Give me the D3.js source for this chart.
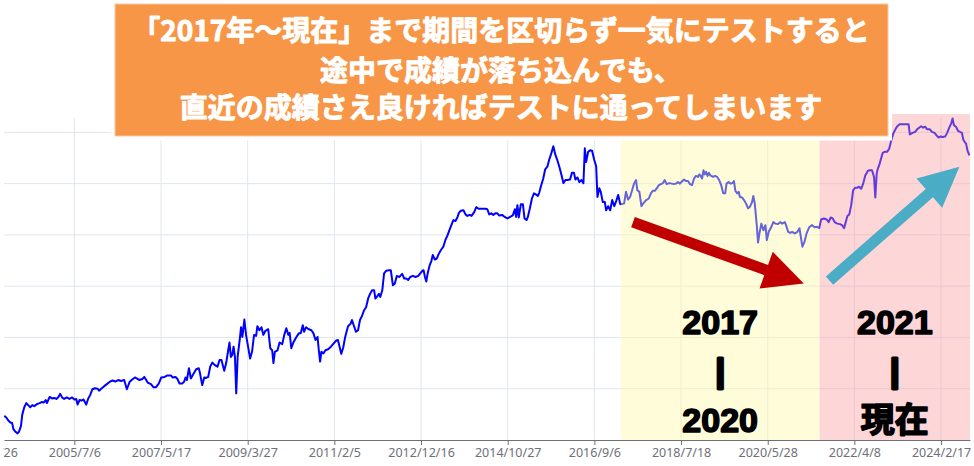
<!DOCTYPE html>
<html lang="ja">
<head>
<meta charset="utf-8">
<title>期間を区切らずにテスト</title>
<script src="https://cdn.jsdelivr.net/npm/d3@7"></script>
<style>
  body { margin: 0; background: #fff; }
  svg { display: block; }
</style>
</head>
<body>
<script>
"use strict";

// size of the picture
let w = 974;
let h = 466;

// equity curve, [date, value]
let equity = [
["2004-01-03",47],["2004-01-19",44],["2004-02-04",38],["2004-02-20",34],["2004-03-05",33],["2004-03-15",21],["2004-03-31",16],["2004-04-16",13],["2004-04-27",16],["2004-05-13",27],["2004-05-23",49],["2004-06-08",64],["2004-06-24",72],["2004-07-09",68],["2004-07-25",64],["2004-08-10",68],["2004-08-25",66],["2004-09-16",70],["2004-10-06",72],["2004-10-22",74],["2004-11-07",73],["2004-11-23",78],["2004-12-03",72],["2004-12-24",84],
["2005-01-12",81],["2005-01-30",82],["2005-02-15",80],["2005-03-03",84],["2005-03-16",90],["2005-04-01",83],["2005-04-17",80],["2005-05-08",83],["2005-05-28",80],["2005-06-19",83],["2005-07-06",79],["2005-07-21",80],["2005-07-31",69],["2005-08-16",78],["2005-08-31",77],["2005-09-16",79],["2005-10-07",69],["2005-10-23",81],["2005-11-08",88],["2005-11-24",99],["2005-12-14",101],
["2006-01-05",100],["2006-01-16",96],["2006-02-06",101],["2006-02-25",105],["2006-03-18",109],["2006-04-13",114],["2006-05-04",116],["2006-05-24",114],["2006-06-15",117],["2006-07-06",115],["2006-08-01",117],["2006-08-22",99],["2006-09-12",113],["2006-10-03",118],["2006-10-24",122],["2006-11-14",119],["2006-11-30",117],["2006-12-21",119],
["2007-01-06",123],["2007-01-16",119],["2007-02-01",112],["2007-02-27",109],["2007-03-18",103],["2007-04-08",103],["2007-04-29",110],["2007-05-19",122],["2007-06-15",123],["2007-07-06",126],["2007-08-02",126],["2007-08-17",122],["2007-09-08",123],["2007-09-23",119],["2007-10-09",110],["2007-10-30",110],["2007-11-15",114],["2007-11-25",122],["2007-12-06",117],["2007-12-22",140],
["2008-01-06",120],["2008-01-27",129],["2008-02-17",138],["2008-03-08",140],["2008-03-18",130],["2008-04-04",107],["2008-04-20",122],["2008-05-05",121],["2008-05-21",123],["2008-06-06",143],["2008-06-22",151],["2008-07-12",146],["2008-08-02",143],["2008-08-18",156],["2008-09-02",156],["2008-09-24",135],["2008-10-09",150],["2008-10-25",175],["2008-11-04",190],["2008-11-15",162],["2008-11-26",166],["2008-12-06",182],["2008-12-17",162],["2008-12-27",91],
["2009-01-07",162],["2009-01-23",195],["2009-02-03",220],["2009-02-13",201],["2009-03-01",235],["2009-03-14",205],["2009-03-30",182],["2009-04-15",159],["2009-04-30",172],["2009-05-16",205],["2009-06-01",203],["2009-06-11",222],["2009-06-27",214],["2009-07-13",220],["2009-07-28",205],["2009-08-13",213],["2009-09-04",216],["2009-09-20",179],["2009-10-05",175],["2009-10-15",150],["2009-10-26",172],["2009-11-16",175],["2009-12-02",190],["2009-12-23",187],
["2010-01-08",205],["2010-01-24",218],["2010-02-09",205],["2010-02-19",209],["2010-03-04",179],["2010-03-20",190],["2010-04-11",200],["2010-05-02",208],["2010-05-17",208],["2010-06-02",224],["2010-06-12",211],["2010-06-28",220],["2010-07-19",216],["2010-08-09",214],["2010-08-25",208],["2010-09-10",195],["2010-09-26",201],["2010-10-06",175],["2010-10-16",153],["2010-10-26",172],["2010-11-11",169],["2010-11-27",175],["2010-12-18",177],
["2011-01-09",182],["2011-01-29",188],["2011-02-20",194],["2011-03-05",195],["2011-03-15",185],["2011-03-31",168],["2011-04-16",181],["2011-05-01",201],["2011-05-23",222],["2011-06-13",227],["2011-06-23",234],["2011-07-09",222],["2011-07-25",211],["2011-08-10",214],["2011-08-25",234],["2011-09-10",242],["2011-09-26",253],["2011-10-12",259],["2011-10-28",276],["2011-11-12",285],["2011-11-28",292],["2011-12-14",292],["2011-12-24",276],
["2012-01-10",281],["2012-01-21",285],["2012-01-31",279],["2012-02-16",292],["2012-03-01",325],["2012-03-17",330],["2012-04-08",331],["2012-04-23",331],["2012-05-09",302],["2012-05-24",305],["2012-06-09",320],["2012-06-29",318],["2012-07-21",324],["2012-08-06",315],["2012-08-21",315],["2012-09-06",312],["2012-09-22",318],["2012-10-13",320],["2012-11-03",318],["2012-11-24",320],["2012-12-10",325],["2012-12-26",330],
["2013-01-05",331],["2013-01-16",318],["2013-01-26",309],["2013-02-06",325],["2013-02-22",341],["2013-03-07",349],["2013-03-18",361],["2013-04-03",352],["2013-04-19",354],["2013-05-04",363],["2013-05-20",370],["2013-06-09",377],["2013-06-25",390],["2013-07-10",398],["2013-07-26",409],["2013-08-11",419],["2013-08-27",429],["2013-09-12",427],["2013-09-27",434],["2013-10-09",443],["2013-10-24",447],["2013-11-14",448],["2013-11-30",440],["2013-12-15",437],
["2014-01-01",439],["2014-01-16",437],["2014-02-07",445],["2014-02-22",454],["2014-03-13",451],["2014-04-08",451],["2014-05-04",451],["2014-05-20",450],["2014-06-04",440],["2014-06-20",442],["2014-07-06",439],["2014-07-21",442],["2014-08-06",442],["2014-08-22",438],["2014-09-13",439],["2014-10-04",435],["2014-10-24",432],["2014-11-15",435],["2014-12-06",438],["2014-12-22",450],
["2015-01-01",435],["2015-01-11",458],["2015-01-22",434],["2015-02-07",460],["2015-02-23",460],["2015-03-08",432],["2015-03-24",429],["2015-04-03",435],["2015-04-19",452],["2015-05-05",471],["2015-05-21",481],["2015-06-05",479],["2015-06-21",476],["2015-07-01",482],["2015-07-17",497],["2015-08-02",510],["2015-08-17",528],["2015-09-03",533],["2015-09-18",547],["2015-10-04",559],["2015-10-20",573],["2015-11-04",557],["2015-11-20",546],["2015-12-06",533],["2015-12-22",518],
["2016-01-07",501],["2016-01-23",507],["2016-02-08",507],["2016-02-28",508],["2016-03-14",521],["2016-03-30",521],["2016-04-10",508],["2016-04-26",512],["2016-05-11",503],["2016-05-27",507],["2016-06-12",501],["2016-06-23",569],["2016-07-03",542],["2016-07-19",562],["2016-08-04",565],["2016-08-19",564],["2016-09-04",547],["2016-09-20",534],["2016-09-30",474],["2016-10-15",491],["2016-10-26",484],["2016-11-11",464],["2016-11-27",464],["2016-12-07",448],["2016-12-23",456],
["2017-01-08",448],["2017-01-24",468],["2017-02-09",456],["2017-02-24",466],["2017-03-12",478],["2017-03-28",460],["2017-04-27",461],["2017-05-12",484],["2017-05-28",469],["2017-06-13",474],["2017-06-29",487],["2017-07-14",500],["2017-07-30",507],["2017-08-09",487],["2017-08-25",484],["2017-09-10",456],["2017-09-26",462],["2017-10-17",468],["2017-11-07",471],["2017-11-23",481],["2017-12-08",486],["2017-12-24",486],
["2018-01-09",491],["2018-01-25",497],["2018-02-10",499],["2018-02-26",501],["2018-03-11",507],["2018-03-27",499],["2018-04-16",501],["2018-05-07",500],["2018-05-23",499],["2018-06-08",500],["2018-06-24",503],["2018-07-09",500],["2018-07-25",504],["2018-08-10",508],["2018-08-25",505],["2018-09-10",505],["2018-09-26",499],["2018-10-12",497],["2018-10-28",510],["2018-11-12",515],["2018-11-28",513],["2018-12-08",518],["2018-12-19",515],["2018-12-30",510],
["2019-01-10",526],["2019-01-21",518],["2019-01-31",523],["2019-02-11",515],["2019-02-22",521],["2019-03-05",516],["2019-03-26",513],["2019-04-11",515],["2019-04-27",513],["2019-05-13",507],["2019-05-29",497],["2019-06-14",481],["2019-06-29",481],["2019-07-10",500],["2019-07-26",503],["2019-08-11",500],["2019-08-27",501],["2019-09-06",505],["2019-09-17",486],["2019-10-02",481],["2019-10-13",484],["2019-10-23",474],["2019-11-08",473],["2019-11-24",468],["2019-12-10",461],["2019-12-26",452],
["2020-01-10",455],["2020-01-26",464],["2020-02-05",476],["2020-02-16",462],["2020-03-03",419],["2020-03-13",385],["2020-03-24",403],["2020-04-08",422],["2020-04-24",409],["2020-05-10",419],["2020-05-21",390],["2020-06-05",406],["2020-06-26",416],["2020-07-11",425],["2020-07-27",422],["2020-08-17",421],["2020-09-02",425],["2020-09-18",422],["2020-10-09",425],["2020-10-19",419],["2020-11-04",406],["2020-11-20",404],["2020-12-05",406],["2020-12-26",403],
["2021-01-16",406],["2021-02-01",413],["2021-02-24",377],["2021-03-13",387],["2021-03-29",403],["2021-04-19",415],["2021-05-10",419],["2021-05-31",415],["2021-06-20",416],["2021-07-06",413],["2021-07-21",430],["2021-08-12",432],["2021-09-03",430],["2021-09-18",425],["2021-10-04",434],["2021-10-20",432],["2021-11-04",425],["2021-11-25",422],["2021-12-16",421],
["2022-01-01",419],["2022-01-17",413],["2022-01-27",422],["2022-02-12",437],["2022-02-27",440],["2022-03-14",458],["2022-03-29",487],["2022-04-14",492],["2022-04-30",492],["2022-05-16",494],["2022-05-31",490],["2022-06-16",500],["2022-07-02",516],["2022-07-12",520],["2022-07-23",525],["2022-08-08",526],["2022-08-24",526],["2022-09-09",513],["2022-09-19",473],["2022-09-30",520],["2022-10-10",530],["2022-10-20",536],["2022-10-31",546],["2022-11-16",560],["2022-12-01",562],["2022-12-22",562],
["2023-01-07",569],["2023-01-23",585],["2023-02-08",598],["2023-02-24",606],["2023-03-10",612],["2023-03-31",616],["2023-04-26",616],["2023-05-22",616],["2023-06-07",616],["2023-06-17",596],["2023-07-08",599],["2023-07-29",601],["2023-08-13",606],["2023-08-29",609],["2023-09-14",612],["2023-09-30",609],["2023-10-15",611],["2023-10-31",606],["2023-11-21",606],["2023-12-07",601],["2023-12-28",599],
["2024-01-13",594],["2024-01-29",590],["2024-02-14",592],["2024-03-01",591],["2024-03-20",592],["2024-04-05",599],["2024-04-21",609],["2024-05-06",617],["2024-05-17",627],["2024-05-28",614],["2024-06-13",611],["2024-06-29",603],["2024-07-14",601],["2024-07-30",599],["2024-08-09",586],["2024-08-21",581],["2024-08-31",578],["2024-09-11",565],["2024-09-26",555]
];

// x axis labels (every 680 days)
let tickLabels = ["2003/8/26","2005/7/6","2007/5/17","2009/3/27","2011/2/5","2012/12/16",
                  "2014/10/27","2016/9/6","2018/7/18","2020/5/28","2022/4/8","2024/2/17"];
let gridValues = [100, 200, 300, 400, 500, 600];
let xDomain = ["2004-01-01", "2024-10-01"];
let yDomain = [0, 628];

// highlighted periods
let yellowBand = ["2017-04-01", "2021-07-09"];
let pinkBand = ["2021-07-09", "2024-10-01"];
let leftPeriod = ["2017", "|", "2020"];
let rightPeriod = ["2021", "|", "現在"];

// arrows [start, end] as [date, value]
let downArrow = [["2017-07-06", 425], ["2021-03-07", 305]];
let upArrow = [["2021-09-25", 311], ["2024-07-10", 533]];

let bannerLines = [
    "「2017年～現在」まで期間を区切らず一気にテストすると",
    "途中で成績が落ち込んでも、",
    "直近の成績さえ良ければテストに通ってしまいます"
];

let parse = d3.timeParse("%Y-%m-%d");
let parseTick = d3.timeParse("%Y/%m/%d");
let tickDates = tickLabels.map(parseTick);

let plotLeft = 4, plotRight = 970, plotTop = 118, plotBottom = 440;

let x = d3.scaleTime()
    .domain(xDomain.map(parse))
    .range([plotLeft, plotRight]);
let y = d3.scaleLinear()
    .domain(yDomain)
    .range([plotBottom, plotTop]);

let svg = d3.select("body")
    .append("svg")
    .attr("width", w)
    .attr("height", h);

//grid lines
svg.append("g")
    .selectAll("line")
    .data(gridValues)
    .enter()
    .append("line")
    .attr("x1", plotLeft)
    .attr("x2", plotRight)
    .attr("y1", function(d) { return y(d); })
    .attr("y2", function(d) { return y(d); })
    .style("stroke", "#e0e6f1")
    .style("stroke-width", 1);

svg.append("g")
    .selectAll("line")
    .data(tickDates)
    .enter()
    .append("line")
    .attr("x1", function(d) { return x(d); })
    .attr("x2", function(d) { return x(d); })
    .attr("y1", plotTop)
    .attr("y2", plotBottom)
    .style("stroke", "#e0e6f1")
    .style("stroke-width", 1);

//x axis
let xAxis = d3.axisBottom(x)
    .tickValues(tickDates)
    .tickFormat(function(d, i) { return tickLabels[i]; })
    .tickSize(5)
    .tickSizeOuter(0)
    .tickPadding(3);

let axisG = svg.append("g")
    .attr("transform", "translate(0," + plotBottom + ")")
    .call(xAxis);
axisG.select(".domain").style("stroke", "#6e7079");
axisG.selectAll(".tick line").style("stroke", "#6e7079");
axisG.selectAll(".tick text")
    .style("fill", "#6e7079")
    .style("font", "12.5px 'Noto Sans', sans-serif");

//equity line
let line = d3.line()
    .x(function(d) { return x(parse(d[0])); })
    .y(function(d) { return y(d[1]); });

svg.append("path")
    .datum(equity)
    .attr("d", line)
    .style("fill", "none")
    .style("stroke", "#0000ff")
    .style("stroke-width", 2)
    .style("stroke-linejoin", "round");

//the picture is cropped: blank strip on the far left
svg.append("rect")
    .attr("x", 0)
    .attr("y", 0)
    .attr("width", plotLeft - 0.5)
    .attr("height", h)
    .style("fill", "#fff");

//translucent period bands laid over the line
function band(range, color) {
    let x0 = x(parse(range[0])), x1 = x(parse(range[1]));
    svg.append("rect")
        .attr("x", x0)
        .attr("y", plotTop - 4)
        .attr("width", x1 - x0)
        .attr("height", plotBottom - plotTop + 4)
        .style("fill", color)
        .style("opacity", 0.4);
    return (x0 + x1) / 2;
}
let yellowMid = band(yellowBand, "rgb(255,250,160)");
let pinkMid = band(pinkBand, "rgb(250,152,158)");

//block arrows
function arrow(pts, color) {
    let x0 = x(parse(pts[0][0])), y0 = y(pts[0][1]);
    let x1 = x(parse(pts[1][0])), y1 = y(pts[1][1]);
    let len = Math.hypot(x1 - x0, y1 - y0);
    let ux = (x1 - x0) / len, uy = (y1 - y0) / len;
    let nx = -uy, ny = ux;
    let shaft = 5.5, head = 19.5, headLen = 40;
    let bx = x1 - ux * headLen, by = y1 - uy * headLen;
    let p = [
        [x0 + nx * shaft, y0 + ny * shaft],
        [bx + nx * shaft, by + ny * shaft],
        [bx + nx * head, by + ny * head],
        [x1, y1],
        [bx - nx * head, by - ny * head],
        [bx - nx * shaft, by - ny * shaft],
        [x0 - nx * shaft, y0 - ny * shaft]
    ];
    svg.append("polygon")
        .attr("points", p.map(function(q) { return q.join(","); }).join(" "))
        .style("fill", color);
}
arrow(downArrow, "#c00000");
arrow(upArrow, "#4bacc6");

//period labels
function periodLabel(lines, cx) {
    let rows = [322, 370, 420];
    svg.append("g")
        .selectAll("text")
        .data(lines)
        .enter()
        .append("text")
        .attr("x", cx)
        .attr("y", function(d, i) { return rows[i]; })
        .attr("text-anchor", "middle")
        .attr("dominant-baseline", "central")
        .style("font", "bold 34px 'Liberation Sans', 'Noto Sans CJK JP', sans-serif")
        .style("fill", "#000")
        .style("stroke", "#000")
        .style("stroke-linejoin", "round")
        .style("stroke-width", function(d) { return d === "|" ? 3 : 1.6; })
        .text(function(d) { return d; });
}
periodLabel(leftPeriod, yellowMid);
periodLabel(rightPeriod, pinkMid);

//banner
svg.append("rect")
    .attr("x", 111)
    .attr("y", 0)
    .attr("width", 781)
    .attr("height", 140.5)
    .style("fill", "#fff");

svg.append("rect")
    .attr("x", 115)
    .attr("y", 4)
    .attr("width", 773)
    .attr("height", 132)
    .style("fill", "#f79646")
    .style("stroke", "#f6c9a4")
    .style("stroke-width", 1);

svg.append("g")
    .selectAll("text")
    .data(bannerLines)
    .enter()
    .append("text")
    .attr("x", 501)
    .attr("y", function(d, i) { return [29, 69, 106][i]; })
    .attr("text-anchor", "middle")
    .attr("dominant-baseline", "central")
    .style("font", "bold 28px 'Noto Sans CJK JP', sans-serif")
    .style("fill", "#fff")
    .style("stroke", "#fff")
    .style("stroke-linejoin", "round")
    .style("stroke-width", 0.9)
    .text(function(d) { return d; });
</script>
</body>
</html>
